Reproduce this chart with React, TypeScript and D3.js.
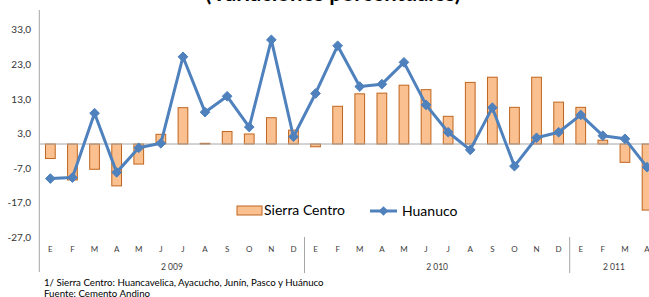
import React from "react";
import * as d3 from "d3";

const months = ["E","F","M","A","M","J","J","A","S","O","N","D","E","F","M","A","M","J","J","A","S","O","N","D","E","F","M","A"];
const years = [{ label: "2 009", start: 0, end: 12 }, { label: "2 010", start: 12, end: 24 }, { label: "2 011", start: 24, end: 28 }];
const sierraCentro = [-4.2,-10.4,-7.3,-12.1,-5.8,2.8,10.5,0.2,3.6,2.9,7.6,4.0,-0.8,10.9,14.5,14.7,17.0,15.7,8.0,17.8,19.3,10.6,19.3,12.1,10.6,1.1,-5.3,-19.1];
const huanuco = [-10.0,-9.7,8.9,-8.2,-1.1,0.2,25.2,9.2,13.8,4.9,30.1,2.1,14.6,28.4,16.6,17.3,23.6,11.3,3.4,-1.7,10.5,-6.4,1.8,3.4,8.4,2.4,1.5,-6.7];
const yTicks = [33, 23, 13, 3, -7, -17, -27];

export default function App() {
  const W = 649, H = 297;
  const x0 = 39.3, cw = 22.1;
  const idx = months.map((_, i) => i);
  const x = d3.scaleBand<number>().domain(idx).range([x0, x0 + cw * months.length]).paddingInner(0.56).paddingOuter(0.28);
  const xc = (i: number) => x0 + cw * (i + 0.5);
  const y = d3.scaleLinear().domain([0, 10]).range([144, 144 - 34.6]);
  const line = d3.line<number>().x((_, i) => xc(i)).y((d) => y(d));
  const font = "Lato, 'Open Sans', sans-serif";
  const fmt = (v: number) => v.toFixed(1).replace(".", ",");
  const diamond = d3.symbol().type(d3.symbolDiamond2).size(60)();
  return (
    <svg width={W} height={H} style={{ position: "absolute", left: 0, top: 0, background: "#fff" }} fontFamily={font}>
      <text x={333} y={1} textAnchor="middle" fontSize={22} fontWeight="bold" fill="#000">(Variaciones porcentuales)</text>
      {/* y axis */}
      <line x1={x0} x2={x0} y1={10} y2={272} stroke="#a6a6a6" strokeWidth={1} />
      {yTicks.map((t) => (
        <text key={t} x={31} y={y(t) + 3.5} textAnchor="end" fontSize={10} fill="#333">{fmt(t)}</text>
      ))}
      {/* bars */}
      {sierraCentro.map((v, i) => (
        <rect key={i} x={x(i)} width={x.bandwidth()} y={Math.min(y(v), y(0))} height={Math.abs(y(v) - y(0))}
          fill="#fac090" stroke="#c0651e" strokeWidth={1} />
      ))}
      {/* zero line */}
      <line x1={x0} x2={W} y1={y(0)} y2={y(0)} stroke="#a6a6a6" strokeWidth={1} />
      {/* line */}
      <path d={line(huanuco) || ""} fill="none" stroke="#4f81bd" strokeWidth={3} strokeLinejoin="round" />
      {huanuco.map((v, i) => (
        <path key={i} d={diamond || ""} transform={`translate(${xc(i)},${y(v)})`} fill="#4f81bd" stroke="#4f81bd" />
      ))}
      {/* category axis */}
      {months.map((m, i) => (
        <text key={i} x={xc(i)} y={252} textAnchor="middle" fontSize={8} fill="#404040">{m}</text>
      ))}
      {years.map((yr) => (
        <text key={yr.label} x={xc((yr.start + yr.end - 1) / 2)} y={270} textAnchor="middle" fontSize={8.5} fill="#404040">{yr.label}</text>
      ))}
      {[12, 24].map((k) => (
        <line key={k} x1={x0 + cw * k} x2={x0 + cw * k} y1={237} y2={273} stroke="#a6a6a6" strokeWidth={1} />
      ))}
      {/* legend */}
      <rect x={237} y={206} width={25} height={9} fill="#fac090" stroke="#c0651e" strokeWidth={1} />
      <text x={264} y={215} fontSize={14} fill="#000">Sierra Centro</text>
      <line x1={370} x2={397} y1={211} y2={211} stroke="#4f81bd" strokeWidth={3} />
      <path d={diamond || ""} transform="translate(383.5,211)" fill="#4f81bd" />
      <text x={402} y={216} fontSize={14} fill="#000">Huanuco</text>
      {/* footnote */}
      <text x={44} y={286} fontSize={9.7} fill="#000">1/ Sierra Centro: Huancavelica,  Ayacucho, Junín, Pasco y Huánuco</text>
      <text x={44} y={297} fontSize={9.7} fill="#000">Fuente: Cemento Andino</text>
    </svg>
  );
}
